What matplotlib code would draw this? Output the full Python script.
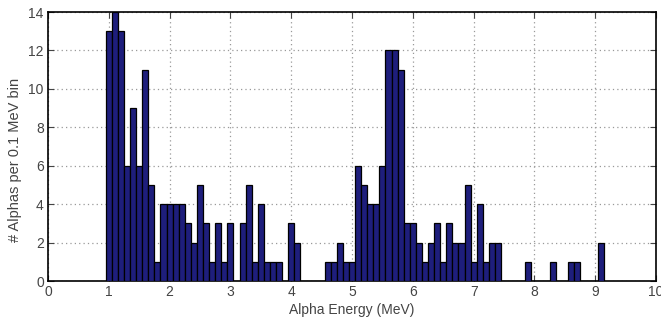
import numpy as np
import matplotlib
matplotlib.use("Agg")
import matplotlib.pyplot as plt

plt.rcParams['font.family'] = ['Liberation Sans', 'DejaVu Sans']

# bin centres (MeV) and counts per 0.1 MeV bin
energy = np.round(np.arange(1.0, 9.15, 0.1), 1)
counts = [13, 14, 13, 6, 9, 6, 11, 5, 1, 4,      # 1.0 - 1.9
          4, 4, 4, 3, 2, 5, 3, 1, 3, 1,          # 2.0 - 2.9
          3, 0, 3, 5, 1, 4, 1, 1, 1, 0,          # 3.0 - 3.9
          3, 2, 0, 0, 0, 0, 1, 1, 2, 1,          # 4.0 - 4.9
          1, 6, 5, 4, 4, 6, 12, 12, 11, 3,       # 5.0 - 5.9
          3, 2, 1, 2, 3, 1, 3, 2, 2, 5,          # 6.0 - 6.9
          1, 4, 1, 2, 2, 0, 0, 0, 0, 1,          # 7.0 - 7.9
          0, 0, 0, 1, 0, 0, 1, 1, 0, 0,          # 8.0 - 8.9
          0, 2]                                  # 9.0 - 9.1

fig = plt.figure(figsize=(6.61, 3.22), dpi=100)
ax = fig.add_axes([0.0726, 0.1273, 0.92, 0.8354])

ax.bar(energy, counts, width=0.1, color='#1e1e7c', edgecolor='black', linewidth=0.9, zorder=3)

ax.set_xlim(0, 10)
ax.set_ylim(0, 14)
ax.set_xticks(range(0, 11))
ax.set_yticks(range(0, 15, 2))
ax.grid(True, linestyle=(0, (1, 2.5)), color='#999999', linewidth=0.9, zorder=0)
ax.tick_params(direction='in', top=True, right=True, labelsize=10, colors='#444444',
               length=4, pad=3)
for s in ax.spines.values():
    s.set_linewidth(1.2)

ax.set_xlabel('Alpha Energy (MeV)', fontsize=10, color='#444444', labelpad=3)
ax.set_ylabel('# Alphas per 0.1 MeV bin', fontsize=10.5, color='#444444')
ax.yaxis.set_label_coords(-0.043, 0.45)

fig.savefig('out.png', dpi=100)
